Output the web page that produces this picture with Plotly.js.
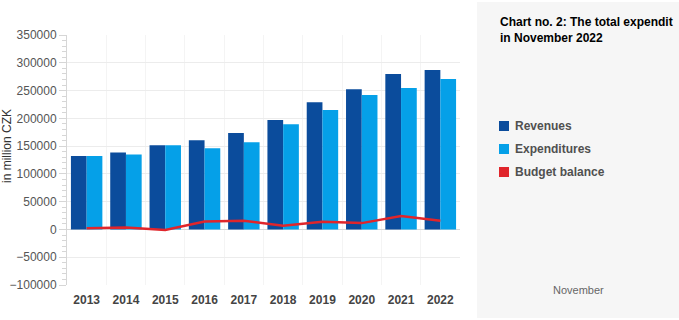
<!DOCTYPE html>
<html>
<head>
<meta charset="utf-8">
<script src="https://cdn.plot.ly/plotly-3.0.1.min.js"></script>
<style>html,body{margin:0;padding:0;background:#fff;}#chart{width:679px;height:320px;}</style>
</head>
<body>
<div id="chart"></div>
<script>
const years = ["2013","2014","2015","2016","2017","2018","2019","2020","2021","2022"];
const revenues = [132000, 138500, 151500, 160500, 173500, 197000, 229000, 252500, 280000, 287000];
const expenditures = [132000, 135000, 151500, 146000, 157000, 189500, 215000, 242000, 254500, 271000];
const balance = [2300, 3600, -800, 14400, 15700, 6700, 13900, 11400, 24000, 15700];
const seriesNames = ["Revenues", "Expenditures", "Budget balance"];
const colors = ["#0B4C9C", "#05A0E8", "#E0252B"];
const titleLines = ["Chart no. 2: The total expendit", "in November 2022"];
const yTitle = "in million CZK";
const monthLabel = "November";

const traces = [
  {type:"bar", x:years, y:revenues, name:seriesNames[0], marker:{color:colors[0]}, hoverinfo:"none"},
  {type:"bar", x:years, y:expenditures, name:seriesNames[1], marker:{color:colors[1]}, hoverinfo:"none"},
  {type:"scatter", mode:"lines", x:years, y:balance, name:seriesNames[2], line:{color:colors[2], width:2.5}, hoverinfo:"none"}
];

const L = 67, R = 460, T = 35, B = 285;
const px = v => (v - L) / (R - L);
const py = v => (B - v) / (B - T);
const FONT = "Liberation Sans, Arial, sans-serif";

const shapes = [
  {type:"rect", xref:"paper", yref:"paper", x0:px(477), x1:px(690), y0:py(318), y1:py(2),
   fillcolor:"#f6f6f6", line:{width:0}, layer:"below"}
];
const annotations = [
  {xref:"paper", yref:"paper", x:px(498), y:py(22), xanchor:"left", yanchor:"middle", showarrow:false,
   text:"<b>"+titleLines[0]+"</b>", font:{family:FONT, size:12, color:"#000"}},
  {xref:"paper", yref:"paper", x:px(498), y:py(38), xanchor:"left", yanchor:"middle", showarrow:false,
   text:"<b>"+titleLines[1]+"</b>", font:{family:FONT, size:12, color:"#000"}},
  {xref:"paper", yref:"paper", x:px(578), y:py(290), xanchor:"center", yanchor:"middle", showarrow:false,
   text:monthLabel, font:{family:FONT, size:11, color:"#666"}},
  {xref:"paper", yref:"paper", x:px(7), y:py(146), xanchor:"center", yanchor:"middle", showarrow:false,
   textangle:-90, text:yTitle, font:{family:FONT, size:12, color:"#333"}}
];
// legend
const legendY = [126, 149, 172];
seriesNames.forEach((n, i) => {
  shapes.push({type:"rect", xref:"paper", yref:"paper", x0:px(499), x1:px(509), y0:py(legendY[i]+5), y1:py(legendY[i]-5),
    fillcolor:colors[i], line:{width:0}});
  annotations.push({xref:"paper", yref:"paper", x:px(513), y:py(legendY[i]), xanchor:"left", yanchor:"middle", showarrow:false,
    text:"<b>"+n+"</b>", font:{family:FONT, size:12, color:"#505050"}});
});

const layout = {
  width:679, height:320,
  margin:{l:L, r:679-R, t:T, b:320-B, pad:0},
  paper_bgcolor:"#ffffff", plot_bgcolor:"rgba(0,0,0,0)",
  barmode:"group", bargap:0.2, bargroupgap:0,
  font:{family:FONT, size:12, color:"#555"},
  showlegend:false,
  xaxis:{type:"category", tickson:"boundaries", showgrid:true, gridcolor:"#f4f4f4", gridwidth:1,
         ticks:"", showline:false, zeroline:false, ticklabelstandoff:6,
         tickfont:{family:FONT, size:12, color:"#444", weight:"bold"}},
  yaxis:{range:[-100000, 350000], dtick:50000, tick0:0, showgrid:true, gridcolor:"#ececec", gridwidth:1,
         zeroline:true, zerolinecolor:"#d8d8d8", zerolinewidth:1,
         showline:true, linecolor:"#d6d6d6", linewidth:1,
         ticks:"outside", ticklen:7, tickcolor:"#d6d6d6", tickwidth:1,
         minor:{dtick:10000, ticks:"outside", ticklen:4, tickcolor:"#d6d6d6", showgrid:false},
         tickfont:{family:FONT, size:12, color:"#555"}, tickformat:"d"},
  shapes: shapes,
  annotations: annotations
};

Plotly.newPlot("chart", traces, layout, {displayModeBar:false, staticPlot:true});
</script>
</body>
</html>
